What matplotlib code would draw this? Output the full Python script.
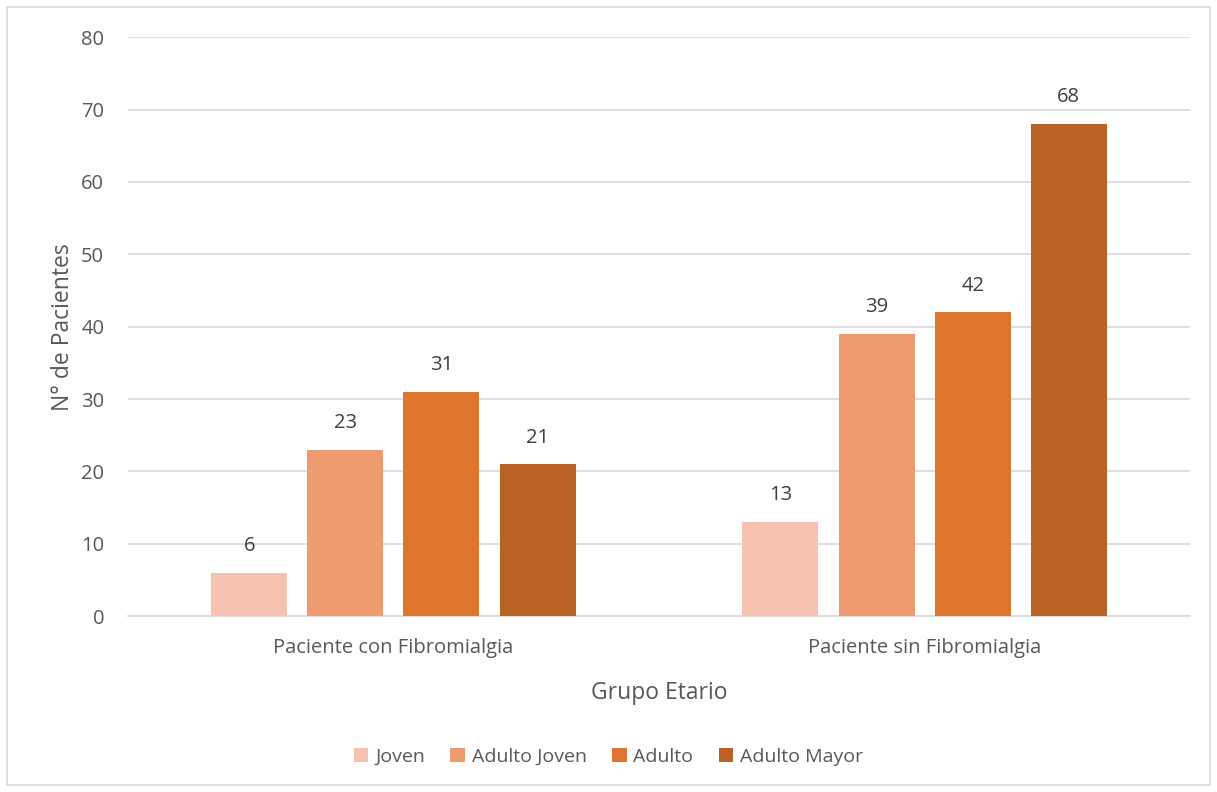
import matplotlib.pyplot as plt
from matplotlib.patches import Rectangle
import numpy as np

plt.rcParams['font.family'] = ['Open Sans', 'DejaVu Sans']

groups = ['Paciente con Fibromialgia', 'Paciente sin Fibromialgia']
series = ['Joven', 'Adulto Joven', 'Adulto', 'Adulto Mayor']
joven = [6, 13]
adulto_joven = [23, 39]
adulto = [31, 42]
adulto_mayor = [21, 68]
colors = ['#F4C2AE', '#F09A72', '#DE752E', '#BA6223']

values = [joven, adulto_joven, adulto, adulto_mayor]

fig = plt.figure(figsize=(12.17, 7.92), dpi=100)
ax = fig.add_axes([0.105, 0.222, 0.873, 0.731])

x = np.arange(len(groups))
width = 0.143
step = 0.181
for i, (name, vals) in enumerate(zip(series, values)):
    pos = x + (i - 1.5) * step
    bars = ax.bar(pos, vals, width, color=colors[i], label=name, zorder=3)
    for b, v in zip(bars, vals):
        ax.text(b.get_x() + b.get_width() / 2, v + 2.3, str(v), ha='center', va='bottom',
                fontsize=14.5, color='#404040')

ax.set_xlim(-0.5, 1.5)
ax.set_ylim(0, 80)
ax.set_yticks(range(0, 81, 10))
ax.set_xticks(x)
ax.set_xticklabels(groups)
ax.grid(axis='y', color='#D9D9D9', linewidth=1.2, zorder=0)
for s in ['top', 'right', 'left']:
    ax.spines[s].set_visible(False)
ax.spines['bottom'].set_color('#D9D9D9')
ax.spines['bottom'].set_linewidth(1.2)
ax.tick_params(axis='both', length=0, labelsize=14.5, colors='#595959')
ax.tick_params(axis='y', pad=17)
ax.tick_params(axis='x', pad=16)
ax.set_ylabel('N° de Pacientes', fontsize=16.5, color='#595959', labelpad=4)
ax.set_xlabel('Grupo Etario', fontsize=16.5, color='#595959', labelpad=16)

fig.legend(loc='center', bbox_to_anchor=(0.5, 0.044), ncol=4, frameon=False,
           fontsize=14, handlelength=0.75, handleheight=0.75, columnspacing=1.3,
           handletextpad=0.35, labelcolor='#595959')

fig.patches.append(Rectangle((7 / 1217, 7 / 792), 1 - 14 / 1217, 1 - 14 / 792,
                             transform=fig.transFigure, fill=False,
                             edgecolor='#D9D9D9', linewidth=1.2))

plt.savefig('out.png')
